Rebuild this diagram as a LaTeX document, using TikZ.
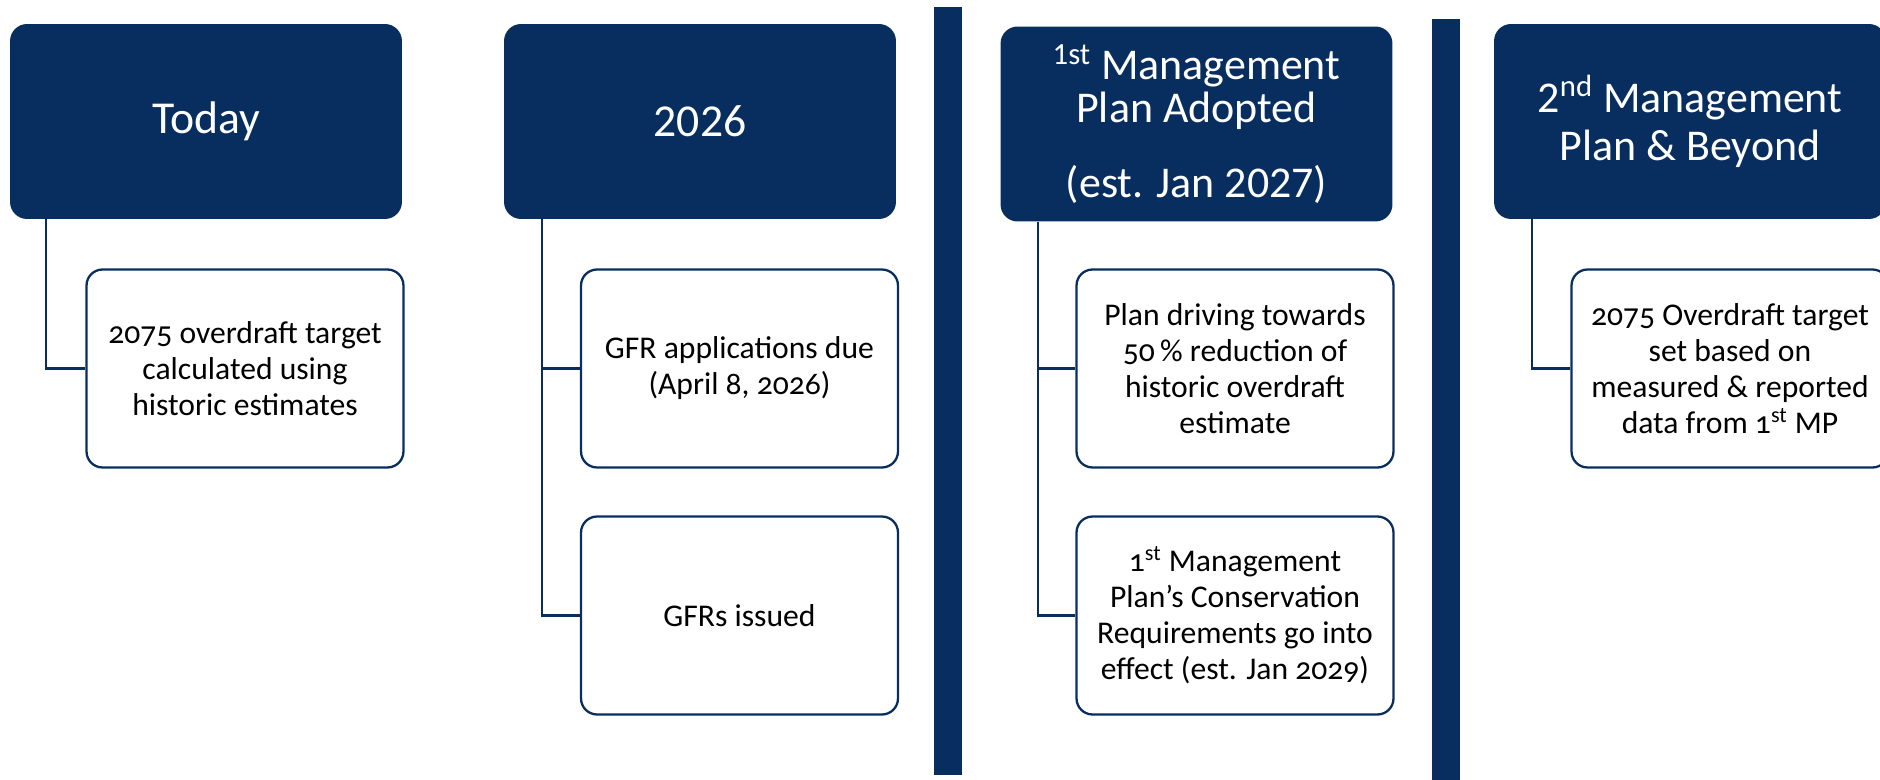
\documentclass[tikz,border=0pt]{standalone}
\usepackage{fontspec}
\setmainfont{Carlito}
\newfontfamily\oldnum{Carlito}[Numbers=OldStyle]
\definecolor{navy}{RGB}{8,46,96}

\begin{document}
\begin{tikzpicture}[x=0.02cm,y=-0.02cm]
\tikzstyle{head}=[rectangle,rounded corners=0.34cm,fill=navy,text=white,minimum width=7.84cm,minimum height=3.9cm,align=center,inner sep=2pt,font=\fontsize{25}{27.5}\selectfont]
\tikzstyle{item}=[rectangle,rounded corners=0.32cm,draw=navy,line width=1.3pt,fill=white,minimum width=6.34cm,minimum height=3.96cm,align=center,inner sep=2pt,font=\oldnum\fontsize{18}{20.5}\selectfont]
\tikzstyle{link}=[draw=navy,line width=1.3pt]
\useasboundingbox (0,0) rectangle (1880,780);
\clip (0,0) rectangle (1880,780);
% separators
\fill [navy] (934,7) rectangle (962,775);
\fill [navy] (1432,19) rectangle (1460,782);
% headers
\node [head,font=\fontsize{26}{28}\selectfont] (h0) at(206,121.5) {Today};
\node [head,font=\fontsize{26}{28}\selectfont] (h1) at(700,121.5) {2026};
\node [head,font=\fontsize{25}{24}\selectfont] (h2) at(1196.5,124) {\textsuperscript{1st} Management\\Plan Adopted\\[19pt](est. Jan 2027)};
\node [head] (h3) at(1690,121.5) {2\textsuperscript{nd} Management\\Plan \& Beyond};
% items
\node [item] (c0) at(245,368.5) {2075 overdraft target\\calculated using\\historic estimates};
\node [item] (c1) at(739.5,368.5) {GFR applications due\\(April 8, 2026)};
\node [item] (c2) at(739.5,615.5) {GFRs issued};
\node [item] (c3) at(1235,368.5) {Plan driving towards\\50\,\% reduction of\\historic overdraft\\estimate};
\node [item] (c4) at(1235,615.5) {1\textsuperscript{st} Management\\Plan’s Conservation\\Requirements go into\\effect (est. Jan 2029)};
\node [item] (c5) at(1730,368.5) {2075 Overdraft target\\set based on\\measured \& reported\\data from 1\textsuperscript{st} MP};
% links
\path [link] ([xshift=0.72cm]h0.south west) |- (c0.west);
\path [link] ([xshift=0.76cm]h1.south west) |- (c1.west);
\path [link] ([xshift=0.76cm]h1.south west) |- (c2.west);
\path [link] ([xshift=0.76cm]h2.south west) |- (c3.west);
\path [link] ([xshift=0.76cm]h2.south west) |- (c4.west);
\path [link] ([xshift=0.76cm]h3.south west) |- (c5.west);
\end{tikzpicture}
\end{document}
